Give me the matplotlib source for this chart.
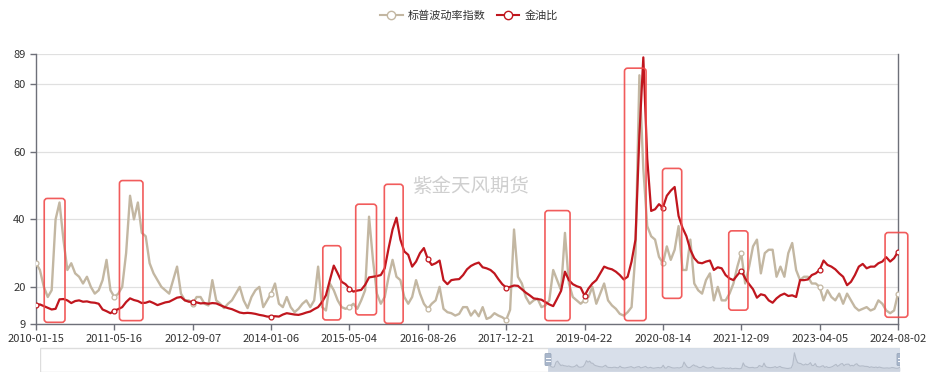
import matplotlib
matplotlib.use('Agg')
import matplotlib.pyplot as plt
from matplotlib.lines import Line2D
from matplotlib.patches import Rectangle, FancyBboxPatch

plt.rcParams['font.family'] = ['Noto Sans CJK SC', 'DejaVu Sans']

# x-axis tick labels (equally spaced category axis, 20 samples per interval)
tick_labels = ['2010-01-15', '2011-05-16', '2012-09-07', '2014-01-06', '2015-05-04',
               '2016-08-26', '2017-12-21', '2019-04-22', '2020-08-14', '2021-12-09',
               '2023-04-05', '2024-08-02']

# S&P volatility index (VIX)
vix = [27, 25, 20, 17, 19, 40, 45, 34, 25, 27,
       24, 23, 21, 23, 20, 18, 19, 22, 28, 19,
       17, 18, 20, 30, 47, 40, 45, 36, 35, 27,
       24, 22, 20, 19, 18, 22, 26, 18, 16, 16,
       15, 17, 17, 15, 14.5, 22, 16, 15, 13.7, 15,
       16, 18, 20, 16, 13.7, 17, 19, 20, 14, 16,
       18, 21, 15, 14, 17, 14, 12.5, 13.5, 15, 16,
       14, 16, 26, 14, 13, 21, 19, 16, 14, 13.5,
       14, 15, 13.5, 16, 19, 40.8, 28, 18, 15, 17,
       23, 28, 23, 22, 17, 15, 17, 22, 18, 15,
       13.5, 15, 16, 20, 13.5, 12.5, 12.2, 11.5, 12, 14,
       14, 11.5, 13, 11.3, 14, 10.5, 11, 12.2, 11.5, 11,
       10.2, 13.2, 37, 23, 21, 17, 15, 16, 16.5, 14,
       14.5, 16, 25, 22, 19, 36, 21, 17, 16, 15,
       16, 17, 20, 15, 18, 21, 16, 14.5, 13.5, 12,
       11.5, 12.5, 14, 30, 82.7, 55, 38, 35, 34, 28.9,
       27, 32, 28, 31, 38, 25, 25, 34, 21, 19,
       18, 22, 24, 16, 20, 16, 16, 18, 21, 26,
       30, 21, 26, 32, 34, 24, 30, 31, 31, 23,
       26, 23, 30, 33, 25, 22, 23, 23, 21, 21,
       20, 16, 19, 17, 16, 18, 15, 18, 16, 14,
       13, 13.5, 14, 13, 13.5, 16, 15, 13, 12.2, 13,
       18]

# gold / oil ratio
gold_oil = [14.6, 14.8, 14.3, 13.8, 13.3, 13.5, 16.3, 16.4, 16.0, 15.2,
            15.8, 16.0, 15.6, 15.7, 15.4, 15.3, 15.0, 13.3, 12.8, 12.2,
            13.0, 13.4, 14.0, 15.5, 16.6, 16.1, 15.8, 15.2, 15.3, 15.7,
            15.2, 14.6, 15.0, 15.4, 15.6, 16.2, 16.8, 17.0, 16.0, 15.6,
            15.6, 15.4, 15.1, 15.2, 15.0, 15.2, 15.1, 14.6, 14.1, 13.7,
            13.4, 12.9, 12.4, 12.2, 12.3, 12.2, 12.0, 11.7, 11.5, 11.2,
            11.2, 11.3, 11.2, 11.8, 12.2, 12.0, 11.8, 11.7, 12.0, 12.4,
            12.7, 13.4, 14.0, 15.5, 17.5, 22.0, 26.3, 24.0, 21.5, 20.8,
            19.5, 18.6, 18.9, 19.1, 20.6, 22.8, 23.0, 23.2, 23.5, 25.5,
            31.5, 37.0, 40.5, 34.0, 30.5, 29.5, 26.0, 27.5, 30.0, 31.5,
            28.2, 26.5, 27.0, 27.8, 22.0, 20.8, 22.0, 22.2, 22.3, 23.5,
            25.2, 26.2, 26.8, 27.2, 25.8, 25.5, 25.0, 24.0, 22.3, 20.8,
            19.8, 20.0, 20.4, 20.3, 19.3, 18.3, 17.5, 16.6, 16.4, 16.2,
            15.5, 14.8, 14.3, 16.5, 18.8, 24.5, 22.0, 20.8, 20.2, 19.8,
            17.4, 19.5, 21.0, 22.0, 24.0, 26.0, 25.5, 25.2, 24.5, 23.5,
            22.2, 23.0, 27.5, 34.0, 65.0, 88.0, 58.0, 42.5, 43.0, 44.5,
            43.5, 47.0, 48.5, 49.6, 41.0, 37.5, 35.0, 31.0, 28.5, 27.2,
            27.0, 27.5, 27.8, 25.0, 25.8, 25.5, 23.5, 22.5, 22.0, 23.5,
            24.8, 22.5, 20.8, 19.3, 16.8, 17.8, 17.5, 16.0, 15.3, 16.6,
            17.5, 18.0, 17.3, 17.5, 17.0, 22.0, 22.0, 22.2, 23.5, 24.0,
            25.0, 27.8, 26.5, 26.0, 25.2, 24.0, 23.0, 20.5, 21.5, 23.5,
            26.0, 26.8, 25.5, 26.0, 26.0, 27.0, 27.5, 28.8, 27.5, 28.5,
            30.4]

# highlighted episodes: (start index, end index, low, high)
highlights = [(2.1, 7.4, 9.5, 46.2), (21.3, 27.3, 10.0, 51.5), (73.2, 77.8, 10.2, 32.2),
              (81.6, 86.9, 11.7, 44.5), (88.9, 93.7, 9.2, 50.4), (129.9, 136.3, 10.0, 42.6),
              (150.2, 155.7, 10.0, 84.8), (159.9, 164.8, 16.6, 55.1), (176.8, 181.7, 13.1, 36.6),
              (216.7, 222.5, 11.0, 36.1)]

y_ticks = [9, 20, 40, 60, 80, 89]

vix_color = '#c3b7a2'
ratio_color = '#c0161e'
axis_color = '#6e7079'

W, H = 933, 376
fig = plt.figure(figsize=(W / 100, H / 100), dpi=100)
ax = fig.add_axes([36 / W, 1 - 324 / H, (898 - 36) / W, (324 - 54) / H])

x = list(range(len(vix)))
step = 20
tick_pos = list(range(0, len(vix), step))

ax.plot(x, vix, color=vix_color, lw=1.7, zorder=3,
        marker='o', markevery=tick_pos, ms=3.5, mfc='white', mec=vix_color, mew=0.9)
ax.plot(x, gold_oil, color=ratio_color, lw=1.6, zorder=4,
        marker='o', markevery=tick_pos, ms=3.5, mfc='white', mec=ratio_color, mew=0.9)

# rounded highlight boxes (aspect corrects for different x / y data scales)
for x0, x1, lo, hi in highlights:
    ax.add_patch(FancyBboxPatch((x0, lo), x1 - x0, hi - lo,
                                boxstyle='round,pad=0,rounding_size=0.8', mutation_aspect=1.16,
                                fill=False, ec='#f04a4a', lw=1.2, alpha=0.9, zorder=5,
                                clip_on=False))

ax.set_xlim(0, len(vix) - 1)
ax.set_ylim(9, 89)
ax.set_yticks(y_ticks)
ax.set_xticks(tick_pos)
ax.set_xticklabels(tick_labels)
ax.tick_params(axis='both', labelsize=8, colors=axis_color, labelcolor='#333333', length=4, width=1)
ax.tick_params(axis='x', pad=3)
ax.grid(axis='y', color='#e0e0e0', lw=0.9, zorder=0)
ax.set_axisbelow(True)
ax.spines['top'].set_visible(False)
for side in ['left', 'bottom', 'right']:
    ax.spines[side].set_color(axis_color)
    ax.spines[side].set_linewidth(1)

# watermark
fig.text(471 / W, 1 - 187 / H, '紫金天风期货', fontsize=14, color='#cfcfcf',
         ha='center', va='center', zorder=1)

# legend
handles = [Line2D([0], [0], color=vix_color, lw=1.5, marker='o', ms=6, mfc='white', mec=vix_color),
           Line2D([0], [0], color=ratio_color, lw=1.5, marker='o', ms=6, mfc='white', mec=ratio_color)]
fig.legend(handles, ['标普波动率指数', '金油比'], loc='upper center', bbox_to_anchor=(0.503, 1.0),
           ncol=2, frameon=False, fontsize=8, handlelength=2.0, columnspacing=1.0,
           handletextpad=0.5, labelcolor='#333333')

# data zoom slider
sl = fig.add_axes([40 / W, 1 - 372 / H, (900 - 40) / W, 25 / H])
sl.set_xlim(40, 900)
sl.set_ylim(0, 25)
sl.axis('off')
sl.add_patch(Rectangle((40, 0.5), 860, 24, fill=False, ec='#dddddd', lw=1))
sl.add_patch(Rectangle((548, 0.5), 352, 24, fc='#d4dce8', ec='none', alpha=0.9))

mini = fig.add_axes([548 / W, 1 - 371 / H, 352 / W, 22 / H])
mini.set_xlim(0, len(vix) - 1)
mini.set_ylim(0, 100)
mini.axis('off')
mini.fill_between(x, 0, vix, color='#c3cad6', alpha=0.5, lw=0)
mini.plot(x, vix, color='#b3bbc8', lw=0.8)

for hx in [548, 900]:
    sl.add_patch(FancyBboxPatch((hx - 3, 6.5), 6, 12, boxstyle='round,pad=0,rounding_size=1',
                                fc='#a8b6cb', ec='#9aa8bc', lw=0.6, zorder=5))
    sl.plot([hx - 1.6, hx + 1.6], [11.3, 11.3], color='white', lw=0.7, zorder=6)
    sl.plot([hx - 1.6, hx + 1.6], [13.7, 13.7], color='white', lw=0.7, zorder=6)

fig.savefig('out.png', dpi=100)
